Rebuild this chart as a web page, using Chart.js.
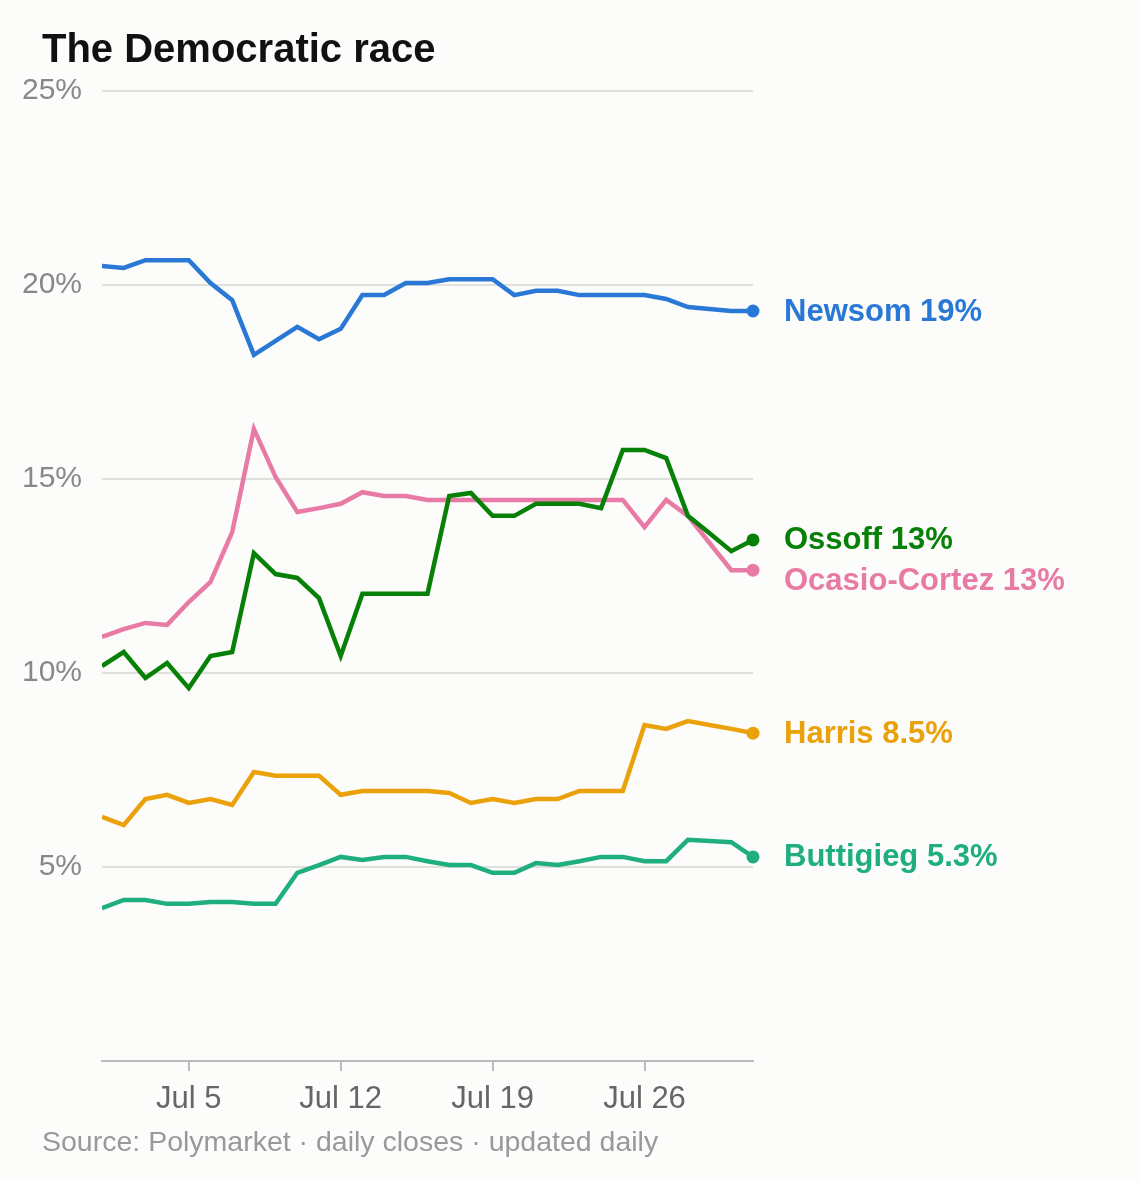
<!DOCTYPE html>
<html><head><meta charset="utf-8">
<script src="https://cdn.jsdelivr.net/npm/chart.js@4"></script>
<style>body{margin:0;background:#fcfcfa}</style></head>
<body><canvas id="c" width="1140" height="1182"></canvas>
<script>
const days = Array.from({length:31},(_,i)=>'Jul '+(i+1));
const tickIdx = [4,11,18,25];
const yTicks = [5,10,15,20,25];
const newsom = [20.49,20.44,20.64,20.64,20.64,20.05,19.61,18.2,18.56,18.92,18.6,18.87,19.74,19.74,20.05,20.05,20.15,20.15,20.15,19.74,19.85,19.85,19.74,19.74,19.74,19.74,19.64,19.43,19.38,19.33,19.33];
const ossoff = [10.18,10.54,9.87,10.26,9.61,10.44,10.54,13.09,12.55,12.45,11.93,10.44,12.04,12.04,12.04,12.04,14.56,14.64,14.05,14.05,14.36,14.36,14.36,14.25,15.75,15.75,15.54,14.05,13.6,13.14,13.43];
const aoc = [10.93,11.13,11.29,11.24,11.83,12.35,13.63,16.29,15.05,14.15,14.25,14.36,14.66,14.56,14.56,14.46,14.46,14.46,14.46,14.46,14.46,14.46,14.46,14.46,14.46,13.76,14.46,14.05,13.35,12.65,12.65];
const harris = [6.29,6.08,6.75,6.86,6.65,6.75,6.6,7.45,7.35,7.35,7.35,6.86,6.96,6.96,6.96,6.96,6.91,6.65,6.75,6.65,6.75,6.75,6.96,6.96,6.96,8.66,8.56,8.76,8.66,8.56,8.45];
const buttigieg = [3.94,4.15,4.15,4.05,4.05,4.1,4.1,4.05,4.05,4.85,5.05,5.26,5.18,5.26,5.26,5.15,5.05,5.05,4.85,4.85,5.1,5.05,5.15,5.26,5.26,5.15,5.15,5.7,5.67,5.64,5.26];
const series = [
 {name:'Newsom',data:newsom,color:'#2a78d6',label:'Newsom 19%',dy:0},
 {name:'Ossoff',data:ossoff,color:'#078007',label:'Ossoff 13%',dy:0},
 {name:'Ocasio-Cortez',data:aoc,color:'#e87ba6',label:'Ocasio-Cortez 13%',dy:10},
 {name:'Harris',data:harris,color:'#eba10a',label:'Harris 8.5%',dy:0},
 {name:'Buttigieg',data:buttigieg,color:'#1fae7e',label:'Buttigieg 5.3%',dy:0}
];
const font = 'Arial, "Liberation Sans", sans-serif';
const deco = {
 id:'deco',
 beforeDraw(ch){const c=ch.ctx;c.save();c.fillStyle='#fcfcfa';c.fillRect(0,0,ch.width,ch.height);c.restore();},
 afterDraw(ch){
  const c=ch.ctx;c.save();
  c.fillStyle='#111';c.font='bold 40px '+font;c.textBaseline='middle';c.textAlign='left';
  c.fillText('The Democratic race',42,51);
  c.fillStyle='#999';c.font='28.5px '+font;
  c.fillText('Source: Polymarket · daily closes · updated daily',42,1143);
  series.forEach((s,i)=>{
   const m=ch.getDatasetMeta(i).data; const p=m[m.length-1];
   c.fillStyle=s.color;c.beginPath();c.arc(p.x,p.y,6.5,0,Math.PI*2);c.fill();
   c.font='bold 31px '+font;c.fillText(s.label,784,p.y+s.dy+1);
  });
  c.restore();
 }
};
new Chart(document.getElementById('c'),{
 type:'line',
 data:{labels:days,datasets:series.map(s=>({label:s.name,data:s.data.map((v,i)=>({x:i,y:v})),borderColor:s.color,borderWidth:4.5,pointRadius:0,tension:0,borderJoinStyle:'miter'}))},
 options:{responsive:false,animation:false,devicePixelRatio:1,
  layout:{padding:{left:0,right:387,top:91,bottom:0}},
  plugins:{legend:{display:false},tooltip:{enabled:false}},
  scales:{
   x:{type:'linear',min:0,max:30,
    afterBuildTicks(s){s.ticks=tickIdx.map(v=>({value:v}));},
    afterFit(s){s.height=121;},
    ticks:{autoSkip:false,maxRotation:0,color:'#666',font:{size:31,family:font},padding:10,callback:v=>days[v]},
    grid:{drawOnChartArea:false,tickLength:10,color:'#bbb',lineWidth:2},
    border:{color:'#bbb',width:2}},
   y:{min:0,max:25,
    afterBuildTicks(s){s.ticks=yTicks.map(v=>({value:v}));},
    afterFit(s){s.width=102;},
    ticks:{color:'#888',font:{size:30,family:font},padding:20,callback:v=>v+'%'},
    grid:{color:'#e0e0dc',lineWidth:2,drawTicks:false},
    border:{display:false}}
  }},
 plugins:[deco]
});
</script></body></html>
